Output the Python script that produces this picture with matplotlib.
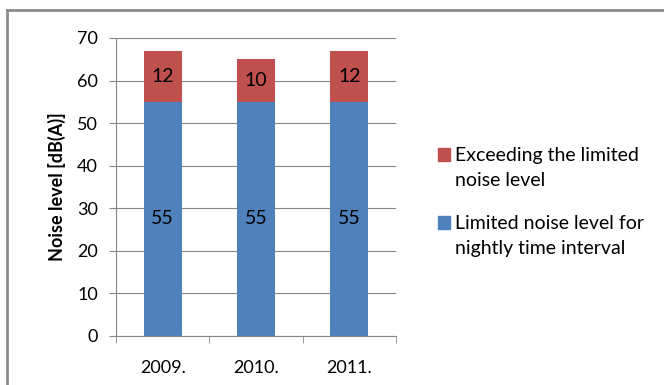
import matplotlib
matplotlib.use("Agg")
import matplotlib.pyplot as plt
from matplotlib.lines import Line2D
from matplotlib.patches import Rectangle
import numpy as np

plt.rcParams['font.family'] = ['Lato', 'DejaVu Sans']

years = ["2009.", "2010.", "2011."]
limited = [55, 55, 55]
exceeding = [12, 10, 12]
yticks = [0, 10, 20, 30, 40, 50, 60, 70]
legend_labels = ["Exceeding the limited\nnoise level", "Limited noise level for\nnightly time interval"]

blue = "#4F81BD"
red = "#C0504D"

fig = plt.figure(figsize=(6.64, 3.85), dpi=100)
ax = fig.add_axes([116/664, 1-336/385, (396-116)/664, (336-38)/385])

x = np.arange(len(years))
w = 0.41
ax.bar(x, limited, w, color=blue, zorder=3)
ax.bar(x, exceeding, w, bottom=limited, color=red, zorder=3)

for xi, v in zip(x, limited):
    ax.text(xi, v/2, str(v), ha='center', va='center', fontsize=14, color='black', zorder=4)
for xi, b, v in zip(x, limited, exceeding):
    ax.text(xi, b + v/2, str(v), ha='center', va='center', fontsize=14, color='black', zorder=4)

ax.set_xlim(-0.5, len(years)-0.5)
ax.set_ylim(0, 70)
ax.set_yticks(yticks)
ax.set_yticklabels([str(t) for t in yticks], fontsize=13)
ax.set_xticks(x)
ax.set_xticklabels(years, fontsize=13)
ax.tick_params(axis='x', length=0, pad=17)
ax.set_xticks(np.arange(-0.5, len(years)), minor=True)
ax.tick_params(axis='x', which='minor', length=5, color='#868686', direction='out')
ax.tick_params(axis='y', length=5, color='#868686', direction='out', pad=8)
ax.grid(axis='y', color='#868686', linewidth=0.8, zorder=0)
for s in ['top', 'right']:
    ax.spines[s].set_visible(False)
for s in ['left', 'bottom']:
    ax.spines[s].set_color('#868686')
    ax.spines[s].set_linewidth(0.8)
ax.set_ylabel("Noise level [dB(A)]", fontsize=13, fontweight='bold', labelpad=8)

# legend (markers aligned with first text line, as in the original)
W, H = 664, 385
entries = [(red, legend_labels[0], 161), (blue, legend_labels[1], 229)]
for col, lab, base in entries:
    fig.add_artist(Rectangle((438/W, 1-(base)/H), 12/W, 13/H, color=col,
                             transform=fig.transFigure))
    fig.text(455/W, 1-base/H, lab.split("\n")[0], fontsize=14, va='baseline', ha='left')
    fig.text(455/W, 1-(base+25)/H, lab.split("\n")[1], fontsize=14, va='baseline', ha='left')

fig.add_artist(Line2D([7/W, 1], [1-10/H, 1-10/H], color='#8c8c8c', linewidth=2, transform=fig.transFigure))
fig.add_artist(Line2D([7/W, 7/W], [0, 1-10/H], color='#8c8c8c', linewidth=2, transform=fig.transFigure))

fig.savefig("out.png", dpi=100)
